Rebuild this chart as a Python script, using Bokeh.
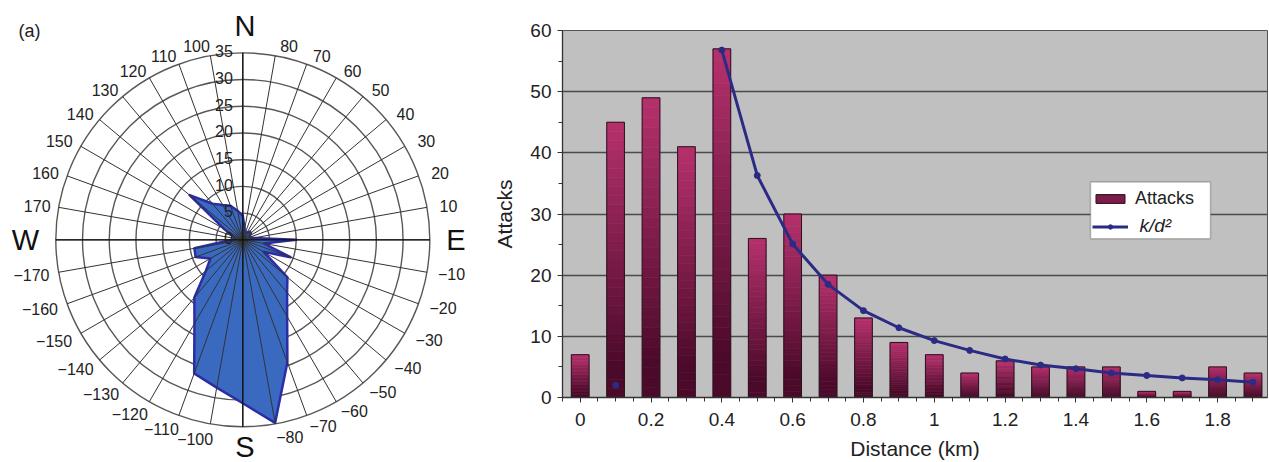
import math
import numpy as np
from bokeh.plotting import figure
from bokeh.layouts import row
from bokeh.models import (ColumnDataSource, FixedTicker, Legend, LegendItem, Label, Range1d,
                          BoxAnnotation)
from bokeh.core.properties import value
from bokeh.embed import file_html
from bokeh.resources import INLINE

FONT = "Liberation Sans"
nan = float("nan")

# ---------------- data: panel (a) – directional rose ----------------
direction_deg = [-170, -160, -150, -140, -130, -120, -110, -100, -90, -80,
                 -70, -60, -50, -40, -30, -20, -10, 0, 10, 20,
                 30, 40, 50, 60, 70, 80, 90, 100, 110, 120,
                 130, 140, 150, 160, 170, 180]
direction_count = [9.2, 9.4, 7.0, 9.0, 14.1, 18.1, 26.6, 28.1, 30.6, 34.8,
                   24.4, 16.6, 12.9, 10.9, 4.5, 9.5, 4.0, 10.0, 2.0, 1.5,
                   1.5, 2.0, 2.0, 1.5, 1.5, 2.0, 4.5, 5.5, 6.8, 7.5,
                   8.8, 13.0, 4.0, 2.0, 1.5, 2.0]
ring_values = [0, 5, 10, 15, 20, 25, 30, 35]
ring_labels = ["0", "5", "10", "15", "20", "25", "30", "35"]
angle_ticks = [10, 20, 30, 40, 50, 60, 70, 80, 100, 110, 120, 130, 140, 150, 160, 170,
               -10, -20, -30, -40, -50, -60, -70, -80, -100, -110, -120, -130, -140,
               -150, -160, -170]
angle_labels = ["10", "20", "30", "40", "50", "60", "70", "80", "100", "110", "120",
                "130", "140", "150", "160", "170",
                "\u221210", "\u221220", "\u221230", "\u221240", "\u221250", "\u221260",
                "\u221270", "\u221280", "\u2212100", "\u2212110", "\u2212120", "\u2212130",
                "\u2212140", "\u2212150", "\u2212160", "\u2212170"]
compass_labels = ["E", "N", "W", "S"]
compass_deg = [0, 90, 180, -90]

# ---------------- data: panel (b) – attacks vs distance ----------------
distance_km = [0.0, 0.1, 0.2, 0.3, 0.4, 0.5, 0.6, 0.7, 0.8, 0.9,
               1.0, 1.1, 1.2, 1.3, 1.4, 1.5, 1.6, 1.7, 1.8, 1.9]
attacks = [7, 45, 49, 41, 57, 26, 30, 20, 13, 9, 7, 4, 6, 5, 5, 5, 1, 1, 5, 4]
k_over_d2 = [nan, 2.0, nan, nan, 56.8, 36.3, 25.1, 18.5, 14.2, 11.4,
             9.3, 7.7, 6.3, 5.3, 4.7, 4.0, 3.6, 3.2, 2.9, 2.5]
dist_tick_values = [0, 0.2, 0.4, 0.6, 0.8, 1.0, 1.2, 1.4, 1.6, 1.8]
dist_tick_labels = ["0", "0.2", "0.4", "0.6", "0.8", "1", "1.2", "1.4", "1.6", "1.8"]
attack_ticks = [0, 10, 20, 30, 40, 50, 60]
attack_minor_ticks = [5, 15, 25, 35, 45, 55]

# =============== panel (a) ===============
W1, H1 = 480, 462
PX = 5.343            # pixels per count unit
CX, CY = 242.3, 239.3  # centre position in canvas pixels
x_lo = (0 - CX) / PX
x_hi = (W1 - CX) / PX
y_hi = CY / PX
y_lo = (CY - H1) / PX

p1 = figure(width=W1, height=H1, x_range=Range1d(x_lo, x_hi), y_range=Range1d(y_lo, y_hi),
            x_axis_type=None, y_axis_type=None, toolbar_location=None,
            output_backend="svg", min_border=0, outline_line_color=None,
            background_fill_color="white", border_fill_color="white")
p1.frame_align = False

R = ring_values[-1]
rings = ring_values[1:]
p1.circle(x=[0] * len(rings), y=[0] * len(rings), radius=rings,
          fill_color=None, line_color="#585858", line_width=1.4)

th = np.deg2rad(np.array(direction_deg, dtype=float))
cnt = np.array(direction_count, dtype=float)
p1.patch(x=list(cnt * np.cos(th)), y=list(cnt * np.sin(th)),
         fill_color="#3a69c0", line_color="#2b2da6", line_width=2.5, line_join="round")

spk = np.deg2rad(np.arange(0, 360, 10, dtype=float))
p1.segment(x0=[0] * len(spk), y0=[0] * len(spk), x1=list(R * np.cos(spk)), y1=list(R * np.sin(spk)),
           line_color="#333333", line_width=1.0)
p1.segment(x0=[-R, 0], y0=[0, -R], x1=[R, 0], y1=[0, R], line_color="#111111", line_width=1.3)

# angle labels (placed just outside the outer ring, nudged away from the N-S axis)
lx, ly = [], []
for a in angle_ticks:
    ar = math.radians(a)
    s, c = math.sin(ar), math.cos(ar)
    d = -3.5 * s * (1.0 if c > 0 else -1.0)
    rr = 39.0 - 1.8 * max(0.0, abs(s) - 0.5) * 2
    if a < 0:
        rr += 0.6
        if c < 0:
            rr += 0.5
    aa = math.radians(a + d)
    lx.append(rr * math.cos(aa))
    ly.append(rr * math.sin(aa))
p1.text(x=lx, y=ly, text=angle_labels, text_align="center", text_baseline="middle",
        text_font=value(FONT), text_font_size="16px", text_color="#222222")

# ring labels
p1.text(x=[-1.85] * len(ring_values), y=[v + 0.3 for v in ring_values], text=ring_labels,
        text_align="right", text_baseline="middle",
        text_font=value(FONT), text_font_size="16px", text_color="#222222")

# compass letters
compass_r = {"E": 39.9, "N": 40.1, "W": 40.7, "S": 38.8}
cx_, cy_ = [], []
for lab, a in zip(compass_labels, compass_deg):
    ar = math.radians(a)
    cx_.append(compass_r[lab] * math.cos(ar) + (0.4 if lab in "NS" else 0))
    cy_.append(compass_r[lab] * math.sin(ar))
p1.text(x=cx_, y=cy_, text=compass_labels, text_align="center", text_baseline="middle",
        text_font=value(FONT), text_font_size="29px", text_color="#111111")

p1.add_layout(Label(x=(18 - CX) / PX, y=(CY - 30) / PX, text="(a)", text_align="left",
                    text_baseline="middle", text_font=FONT, text_font_size="18px",
                    text_color="#222222"))

# =============== panel (b) ===============
W2, H2 = 789, 462
FL, FR, FT, FB = 82, 2, 30, 62    # borders around the plotting frame
X0 = -0.05
PXKM = 354.1
PXY = 370 / 60
X1 = X0 + (W2 - FL - FR) / PXKM
p2 = figure(width=W2, height=H2, x_range=Range1d(X0, X1), y_range=Range1d(0, 60),
            toolbar_location=None, output_backend="svg",
            min_border_left=FL, min_border_right=FR, min_border_top=FT, min_border_bottom=FB,
            background_fill_color="#c0c0c0", border_fill_color="white",
            outline_line_color="#555555", outline_line_width=1)
p2.frame_align = False

def mix(c1, c2, f):
    a = [int(c1[i:i + 2], 16) for i in (1, 3, 5)]
    b = [int(c2[i:i + 2], 16) for i in (1, 3, 5)]
    return "#%02x%02x%02x" % tuple(int(round(a[k] + (b[k] - a[k]) * f)) for k in range(3))

BOTTOM_C, TOP_C = "#4c0a2a", "#b3306b"
N = 30
sx, sb, st, sc = [], [], [], []
for d, v in zip(distance_km, attacks):
    for j in range(N):
        sx.append(d)
        sb.append(v * j / N)
        st.append(v * (j + 1) / N)
        f = (j + 0.5) / N
        f = min(max((f - 0.12) / 0.85, 0.0), 1.0)
        sc.append(mix(BOTTOM_C, TOP_C, f))
slices = ColumnDataSource(dict(x=sx, bottom=sb, top=st, color=sc))
r_slices = p2.vbar(x="x", bottom="bottom", top="top", width=0.05, fill_color="color",
                   line_color="color", line_width=0.6, source=slices)
r_outline = p2.vbar(x=distance_km, top=attacks, bottom=0, width=0.05, fill_color=None,
                    line_color="#2a1420", line_width=1.0)

LINE_C = "#2b2b86"
r_line = p2.line(x=distance_km, y=k_over_d2, line_color=LINE_C, line_width=3)
r_pts = p2.scatter(x=distance_km, y=k_over_d2, size=6, fill_color=LINE_C, line_color=LINE_C)

p2.xgrid.visible = False
p2.ygrid.grid_line_color = "#4a4a4a"
p2.ygrid.grid_line_width = 1.3

minor_x = sorted(set([round(d - 0.05, 2) for d in distance_km] + distance_km + [1.95]))
p2.xaxis.ticker = FixedTicker(ticks=dist_tick_values, minor_ticks=minor_x)
p2.xaxis.major_label_overrides = dict(zip(dist_tick_values, dist_tick_labels))
p2.yaxis.ticker = FixedTicker(ticks=attack_ticks, minor_ticks=attack_minor_ticks)

for ax in (p2.xaxis[0], p2.yaxis[0]):
    ax.axis_line_color = "#333333"
    ax.axis_line_width = 1.3
    ax.major_tick_line_color = "#333333"
    ax.minor_tick_line_color = "#333333"
    ax.major_tick_out = 5
    ax.major_tick_in = 0
    ax.minor_tick_out = 4
    ax.minor_tick_in = 0
    ax.major_label_text_font = FONT
    ax.major_label_text_font_size = "19px"
    ax.major_label_text_color = "#222222"
    ax.axis_label_text_font = FONT
    ax.axis_label_text_font_size = "21px"
    ax.axis_label_text_font_style = "normal"
    ax.axis_label_text_color = "#222222"

p2.xaxis.axis_label = "Distance (km)"
p2.xaxis.major_label_standoff = 10
p2.xaxis.axis_label_standoff = 8
p2.yaxis.axis_label = "Attacks"
p2.yaxis.major_label_standoff = 6
p2.yaxis.axis_label_standoff = 11

# legend: white framed box, transparent Bokeh legend for the swatches, italic label for k/d^2
box_l, box_r, box_t, box_b = 1090, 1210, 182.7, 240   # box edges in canvas pixels
p2.add_layout(BoxAnnotation(left=X0 + (box_l - 480 - FL) / PXKM, right=X0 + (box_r - 480 - FL) / PXKM,
                            bottom=(400 - box_b) / PXY, top=(400 - box_t) / PXY,
                            fill_color="white", fill_alpha=1.0,
                            line_color="#333333", line_width=1.5))
p2.add_layout(Label(x=X0 + (1139 - 480 - FL) / PXKM, y=(400 - 226.5) / PXY,
                    text="k/d\u00b2", text_align="left", text_baseline="middle", text_font=FONT,
                    text_font_size="19px", text_font_style="italic", text_color="#222222"))

legend = Legend(items=[LegendItem(label="Attacks", renderers=[r_slices, r_outline], index=N // 2),
                       LegendItem(label=" ", renderers=[r_line, r_pts], index=5)],
                location=(530, 165.5), glyph_width=36, glyph_height=11,
                label_text_font=FONT, label_text_font_size="18px", label_text_color="#222222",
                label_standoff=7, label_width=68, padding=6, spacing=12, margin=0,
                border_line_color=None, background_fill_alpha=0.0)
p2.add_layout(legend)

p2.add_layout(Label(x=X0 + (498 - 480 - FL) / PXKM, y=60.15, text="(b)",
                    text_align="left", text_baseline="middle", text_font=FONT,
                    text_font_size="18px", text_color="#222222"))

layout = row(p1, p2)
open("out.html", "w").write(file_html(layout, INLINE, title="chart"))
